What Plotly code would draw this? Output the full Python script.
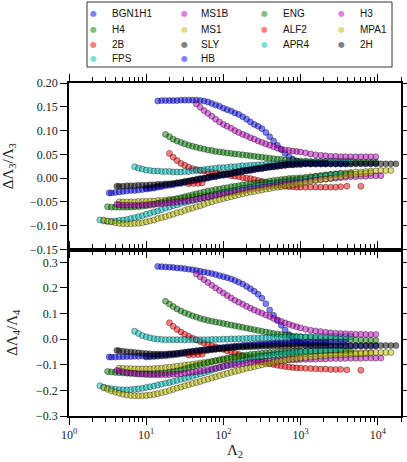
import plotly.graph_objects as go
from plotly.subplots import make_subplots

# Each EOS: (Lambda_2, dLambda3/Lambda3, dLambda4/Lambda4)
BGN1H1 = [
    (14.1, .162, .284), (15.8, .163, .283), (17.8, .163, .282), (20.0, .163, .281),
    (22.4, .163, .280), (25.1, .163, .278), (28.2, .164, .277), (31.6, .164, .275),
    (35.5, .164, .273), (39.8, .164, .271), (44.7, .164, .268), (50.1, .163, .265),
    (56.2, .162, .262), (63.1, .160, .259), (70.8, .157, .256), (79.4, .154, .252),
    (89.1, .151, .248), (100, .147, .244), (112, .144, .240), (126, .141, .235),
    (141, .137, .229), (158, .134, .222), (178, .129, .215), (200, .124, .206),
    (224, .118, .197), (251, .113, .187), (282, .109, .175), (316, .104, .160),
    (355, .096, .138), (398, .087, .114), (447, .078, .093), (501, .069, .073),
    (562, .060, .054), (631, .052, .036), (708, .045, .018), (794, .040, .004),
    (891, .036, -.007), (1000, .033, -.015), (1161, .031, -.021), (1349, .030, -.024),
    (1567, .030, -.025), (1820, .030, -.026), (2113, .030, -.026), (2455, .030, -.026),
    (2851, .030, -.027), (3311, .030, -.027), (3846, .030, -.027), (4467, .030, -.027),
    (5188, .031, -.027), (6026, .031, -.027), (6998, .031, -.027), (8128, .031, -.027),
    (9441, .031, -.027),
]

H4 = [
    (17.8, .092, .148), (20.0, .087, .137), (22.4, .082, .127), (25.1, .078, .118),
    (28.2, .075, .110), (31.6, .072, .103), (35.5, .069, .097), (39.8, .067, .091),
    (44.7, .065, .086), (50.1, .063, .081), (56.2, .061, .077), (63.1, .059, .073),
    (70.8, .058, .070), (79.4, .056, .067), (89.1, .055, .064), (100, .054, .061),
    (112, .053, .058), (126, .052, .055), (141, .051, .052), (158, .050, .049),
    (178, .049, .046), (200, .048, .043), (224, .047, .040), (251, .046, .037),
    (282, .045, .034), (316, .044, .031), (355, .043, .028), (398, .042, .025),
    (447, .041, .022), (501, .040, .020), (562, .039, .018), (631, .038, .016),
    (708, .037, .014), (794, .037, .012), (891, .036, .010), (1000, .036, .009),
    (1161, .036, .007), (1349, .035, .006), (1567, .035, .005), (1820, .035, .004),
    (2113, .035, .003), (2455, .035, .002), (2851, .034, .001), (3311, .034, .000),
    (3846, .034, -.001), (4467, .034, -.002), (5188, .034, -.003), (6026, .034, -.003),
    (6998, .034, -.004), (8128, .034, -.004), (9441, .034, -.005),
]

EOS_2B = [
    (20.0, .052, .064), (22.4, .044, .050), (25.1, .037, .038), (28.2, .031, .028),
    (31.6, .027, .019), (35.5, .023, .011), (39.8, .020, .004), (44.7, .018, -.003),
    (50.1, .016, -.009), (56.2, .015, -.015), (63.1, .013, -.020), (70.8, .012, -.025),
    (79.4, .011, -.030), (89.1, .009, -.035), (100, .008, -.040), (112, .007, -.045),
    (126, .005, -.050), (141, .004, -.055), (158, .003, -.060), (178, .001, -.065),
    (200, .000, -.070), (224, -.001, -.075), (251, -.003, -.080), (282, -.005, -.084),
    (316, -.007, -.088), (355, -.009, -.092), (398, -.011, -.096), (447, -.013, -.099),
    (501, -.015, -.102), (562, -.016, -.105), (631, -.017, -.107), (708, -.018, -.109),
    (794, -.018, -.111), (891, -.019, -.112), (1000, -.019, -.113), (1161, -.019, -.114),
    (1349, -.019, -.115), (1567, -.019, -.116), (1820, -.019, -.117), (2113, -.019, -.117),
    (2455, -.019, -.118), (2851, -.019, -.118), (3311, -.018, -.118), (3981, -.017, -.120),
    (6026, -.017, -.121),
]

FPS = [
    (7.08, .024, .031), (7.94, .021, .022), (8.91, .019, .014), (10.0, .017, .009),
    (11.2, .016, .005), (12.6, .015, .002), (14.1, .015, .000), (15.8, .014, -.001),
    (17.8, .014, -.002), (20.0, .014, -.002), (22.4, .013, -.002), (25.1, .013, -.002),
    (28.2, .013, -.002), (31.6, .014, -.002), (35.5, .014, -.002), (39.8, .015, -.002),
    (44.7, .016, -.002), (50.1, .017, -.002), (56.2, .018, -.002), (63.1, .019, -.002),
    (70.8, .020, -.001), (79.4, .021, -.001), (89.1, .022, -.001), (100, .022, .000),
    (112, .023, .000), (126, .024, .001), (141, .024, .001), (158, .025, .002),
    (178, .026, .002), (200, .026, .003), (224, .027, .003), (251, .027, .004),
    (282, .028, .004), (316, .028, .005), (355, .029, .005), (398, .029, .006),
    (447, .030, .006), (501, .030, .007), (562, .031, .007), (631, .031, .008),
    (708, .032, .008), (794, .032, .008), (891, .033, .009), (1000, .033, .009),
    (1161, .034, .009), (1349, .034, .010), (1567, .035, .010), (1820, .035, .010),
    (2113, .035, .010), (2455, .036, .010), (2851, .036, .010), (3311, .036, .010),
    (3846, .036, .010), (4467, .036, .010),
]

MS1B = [
    (44.7, .156, .254), (50.1, .149, .243), (56.2, .142, .232), (63.1, .136, .221),
    (70.8, .130, .210), (79.4, .124, .200), (89.1, .118, .190), (100, .113, .180),
    (112, .109, .170), (126, .105, .161), (141, .100, .152), (158, .096, .144),
    (178, .092, .136), (200, .089, .128), (224, .085, .121), (251, .082, .114),
    (282, .078, .107), (316, .075, .101), (355, .072, .094), (398, .069, .088),
    (447, .066, .081), (501, .063, .075), (562, .061, .069), (631, .059, .063),
    (708, .058, .058), (794, .057, .053), (891, .056, .048), (1000, .055, .044),
    (1161, .053, .039), (1349, .051, .035), (1567, .049, .032), (1820, .048, .030),
    (2113, .047, .027), (2455, .046, .025), (2851, .046, .023), (3311, .045, .022),
    (3846, .045, .021), (4467, .045, .020), (5188, .045, .019), (6026, .045, .019),
    (6998, .045, .018), (8128, .045, .018), (9441, .045, .018),
]

MS1 = [
    (4.47, -.050, -.113), (5.01, -.050, -.114), (5.62, -.050, -.115), (6.31, -.050, -.115),
    (7.08, -.050, -.116), (7.94, -.049, -.116), (8.91, -.049, -.116), (10.0, -.049, -.116),
    (11.2, -.048, -.116), (12.6, -.048, -.115), (14.1, -.047, -.114), (15.8, -.047, -.113),
    (17.8, -.046, -.111), (20.0, -.045, -.110), (22.4, -.045, -.108), (25.1, -.044, -.106),
    (28.2, -.043, -.104), (31.6, -.042, -.102), (35.5, -.041, -.100), (39.8, -.040, -.098),
    (44.7, -.039, -.096), (50.1, -.038, -.093), (56.2, -.037, -.091), (63.1, -.036, -.089),
    (70.8, -.035, -.087), (79.4, -.033, -.085), (89.1, -.032, -.083), (100, -.030, -.081),
    (112, -.029, -.079), (126, -.027, -.077), (141, -.026, -.076), (158, -.024, -.074),
    (178, -.022, -.072), (200, -.021, -.071), (224, -.019, -.069), (251, -.018, -.068),
    (282, -.016, -.066), (316, -.015, -.065), (355, -.013, -.064), (398, -.012, -.063),
    (447, -.010, -.062), (501, -.009, -.061), (562, -.008, -.060), (631, -.006, -.059),
    (708, -.005, -.058), (794, -.004, -.058), (891, -.003, -.057), (1000, -.002, -.057),
    (1161, .000, -.056), (1349, .002, -.056), (1567, .004, -.055), (1820, .005, -.055),
    (2113, .007, -.054), (2455, .008, -.054), (2851, .009, -.054), (3311, .010, -.053),
    (3846, .011, -.053), (4467, .012, -.053), (5188, .013, -.053), (6026, .013, -.052),
    (6998, .014, -.052), (8128, .015, -.052), (9441, .015, -.052), (10965, .016, -.052),
    (12735, .016, -.052), (14791, .016, -.052),
]

SLY = [
    (10.0, -.021, -.070), (11.2, -.020, -.069), (12.6, -.019, -.068), (14.1, -.017, -.067),
    (15.8, -.016, -.066), (17.8, -.014, -.065), (20.0, -.013, -.063), (22.4, -.012, -.062),
    (25.1, -.010, -.060), (28.2, -.009, -.058), (31.6, -.007, -.056), (35.5, -.006, -.054),
    (39.8, -.004, -.052), (44.7, -.003, -.050), (50.1, -.001, -.048), (56.2, .000, -.046),
    (63.1, .002, -.044), (70.8, .004, -.042), (79.4, .005, -.040), (89.1, .007, -.038),
    (100, .008, -.036), (112, .010, -.034), (126, .011, -.033), (141, .013, -.031),
    (158, .014, -.030), (178, .016, -.028), (200, .017, -.027), (224, .018, -.026),
    (251, .020, -.025), (282, .021, -.024), (316, .022, -.023), (355, .024, -.022),
    (398, .025, -.021), (447, .026, -.020), (501, .027, -.019), (562, .028, -.019),
    (631, .029, -.018), (708, .030, -.018), (794, .030, -.017), (891, .031, -.017),
    (1000, .031, -.017), (1161, .032, -.016), (1349, .032, -.016), (1567, .032, -.016),
    (1820, .032, -.016), (2113, .032, -.016),
]

HB = [
    (3.31, -.031, -.070), (3.55, -.031, -.070), (3.98, -.030, -.070), (4.47, -.029, -.069),
    (5.01, -.028, -.069), (5.62, -.027, -.068), (6.31, -.026, -.068), (7.08, -.026, -.067),
    (7.94, -.025, -.067), (8.91, -.024, -.066), (10.0, -.023, -.066), (11.2, -.022, -.065),
    (12.6, -.021, -.064), (14.1, -.019, -.063), (15.8, -.018, -.062), (17.8, -.016, -.061),
    (20.0, -.015, -.059), (22.4, -.014, -.058), (25.1, -.012, -.056), (28.2, -.011, -.054),
    (31.6, -.009, -.052), (35.5, -.008, -.050), (39.8, -.006, -.048), (44.7, -.005, -.046),
    (50.1, -.003, -.044), (56.2, -.002, -.042), (63.1, .000, -.040), (70.8, .002, -.038),
    (79.4, .003, -.036), (89.1, .005, -.034), (100, .006, -.032), (112, .008, -.030),
    (126, .009, -.029), (141, .011, -.027), (158, .012, -.026), (178, .014, -.024),
    (200, .015, -.023), (224, .016, -.022), (251, .018, -.021), (282, .019, -.020),
    (316, .020, -.019), (355, .022, -.018), (398, .023, -.017), (447, .024, -.016),
    (501, .025, -.015), (562, .026, -.015), (631, .027, -.014), (708, .028, -.014),
    (794, .028, -.013), (891, .029, -.013), (1000, .029, -.013), (1161, .030, -.012),
    (1349, .030, -.012), (1567, .030, -.012), (1820, .030, -.012), (2113, .030, -.012),
    (2455, .030, -.012), (2851, .030, -.012), (3311, .030, -.012), (3846, .030, -.012),
]

ENG = [
    (3.16, -.060, -.126), (3.55, -.061, -.128), (3.98, -.061, -.130), (4.47, -.061, -.131),
    (5.01, -.061, -.132), (5.62, -.061, -.133), (6.31, -.061, -.134), (7.08, -.060, -.134),
    (7.94, -.060, -.135), (8.91, -.059, -.135), (10.0, -.058, -.135), (11.2, -.057, -.135),
    (12.6, -.055, -.135), (14.1, -.053, -.134), (15.8, -.051, -.133), (17.8, -.049, -.132),
    (20.0, -.047, -.130), (22.4, -.045, -.127), (25.1, -.043, -.124), (28.2, -.041, -.120),
    (31.6, -.039, -.116), (35.5, -.037, -.112), (39.8, -.035, -.108), (44.7, -.033, -.104),
    (50.1, -.031, -.100), (56.2, -.029, -.096), (63.1, -.027, -.092), (70.8, -.026, -.088),
    (79.4, -.024, -.084), (89.1, -.023, -.080), (100, -.021, -.077), (112, -.020, -.074),
    (126, -.018, -.071), (141, -.017, -.069), (158, -.016, -.066), (178, -.014, -.064),
    (200, -.013, -.062), (224, -.012, -.060), (251, -.011, -.058), (282, -.010, -.057),
    (316, -.009, -.055), (355, -.008, -.054), (398, -.006, -.053), (447, -.005, -.052),
    (501, -.004, -.051), (562, -.003, -.050), (631, -.002, -.049), (708, -.001, -.049),
    (794, .000, -.048), (891, .000, -.048), (1000, .001, -.047), (1161, .002, -.047),
    (1349, .003, -.046), (1567, .004, -.046), (1820, .005, -.046), (2113, .006, -.045),
    (2455, .007, -.045), (2851, .008, -.045), (3311, .008, -.045), (3846, .009, -.045),
    (4467, .010, -.045),
]

ALF2 = [
    (35.5, -.012, -.062), (41.0, -.011, -.061), (47.0, -.011, -.060), (53.0, -.010, -.059),
]

APR4 = [
    (2.51, -.088, -.182), (2.82, -.090, -.187), (3.16, -.091, -.191), (3.55, -.091, -.194),
    (3.98, -.090, -.196), (4.47, -.089, -.197), (5.01, -.088, -.198), (5.62, -.087, -.198),
    (6.31, -.085, -.197), (7.08, -.083, -.196), (7.94, -.081, -.194), (8.91, -.079, -.192),
    (10.0, -.076, -.189), (11.2, -.074, -.186), (12.6, -.071, -.183), (14.1, -.069, -.179),
    (15.8, -.066, -.176), (17.8, -.063, -.172), (20.0, -.061, -.169), (22.4, -.058, -.165),
    (25.1, -.056, -.161), (28.2, -.053, -.157), (31.6, -.051, -.153), (35.5, -.049, -.149),
    (39.8, -.047, -.145), (44.7, -.045, -.140), (50.1, -.043, -.136), (56.2, -.041, -.131),
    (63.1, -.039, -.126), (70.8, -.037, -.121), (79.4, -.035, -.116), (89.1, -.033, -.111),
    (100, -.031, -.106), (112, -.029, -.101), (126, -.028, -.097), (141, -.026, -.093),
    (158, -.024, -.089), (178, -.022, -.085), (200, -.021, -.081), (224, -.019, -.078),
    (251, -.018, -.075), (282, -.016, -.072), (316, -.015, -.069), (355, -.014, -.066),
    (398, -.013, -.064), (447, -.012, -.062), (501, -.011, -.060), (562, -.010, -.058),
    (631, -.009, -.056), (708, -.008, -.054), (794, -.007, -.053), (891, -.006, -.051),
    (1000, -.004, -.050), (1161, -.003, -.048), (1349, -.001, -.047), (1567, .001, -.046),
    (1820, .003, -.045), (2113, .005, -.044), (2455, .007, -.043), (2851, .008, -.042),
    (3311, .010, -.041),
]

H3 = [
    (4.17, -.055, -.122), (4.47, -.056, -.124), (5.01, -.057, -.127), (5.62, -.057, -.130),
    (6.31, -.057, -.132), (7.08, -.057, -.134), (7.94, -.057, -.136), (8.91, -.056, -.137),
    (10.0, -.056, -.138), (11.2, -.055, -.139), (12.6, -.055, -.139), (14.1, -.054, -.139),
    (15.8, -.054, -.139), (17.8, -.053, -.139), (20.0, -.052, -.138), (22.4, -.051, -.137),
    (25.1, -.050, -.136), (28.2, -.049, -.135), (31.6, -.048, -.133), (35.5, -.047, -.131),
    (39.8, -.046, -.129), (44.7, -.044, -.127), (50.1, -.043, -.125), (56.2, -.041, -.122),
    (63.1, -.040, -.119), (70.8, -.038, -.116), (79.4, -.037, -.113), (89.1, -.035, -.110),
    (100, -.034, -.107), (112, -.032, -.104), (126, -.031, -.102), (141, -.029, -.100),
    (158, -.028, -.098), (178, -.026, -.096), (200, -.025, -.094), (224, -.023, -.092),
    (251, -.022, -.091), (282, -.021, -.089), (316, -.019, -.088), (355, -.018, -.087),
    (398, -.017, -.086), (447, -.016, -.085), (501, -.014, -.084), (562, -.013, -.083),
    (631, -.012, -.082), (708, -.011, -.081), (794, -.010, -.080), (891, -.009, -.080),
    (1000, -.008, -.079), (1161, -.007, -.079), (1349, -.005, -.078), (1567, -.004, -.078),
    (1820, -.003, -.077), (2113, -.002, -.077), (2455, -.001, -.076), (2851, .000, -.076),
    (3311, .001, -.076), (3846, .002, -.075), (4467, .003, -.075), (5188, .003, -.075),
    (6026, .004, -.075), (6998, .004, -.074), (8128, .005, -.074), (9441, .005, -.074),
    (10965, .005, -.074),
]

MPA1 = [
    (2.82, -.088, -.190), (3.16, -.090, -.196), (3.55, -.092, -.202), (3.98, -.094, -.207),
    (4.47, -.095, -.211), (5.01, -.096, -.215), (5.62, -.096, -.218), (6.31, -.096, -.220),
    (7.08, -.095, -.221), (7.94, -.095, -.221), (8.91, -.094, -.221), (10.0, -.092, -.220),
    (11.2, -.090, -.218), (12.6, -.088, -.216), (14.1, -.085, -.213), (15.8, -.083, -.209),
    (17.8, -.081, -.205), (20.0, -.078, -.201), (22.4, -.076, -.196), (25.1, -.073, -.191),
    (28.2, -.071, -.187), (31.6, -.068, -.182), (35.5, -.065, -.178), (39.8, -.063, -.173),
    (44.7, -.060, -.169), (50.1, -.058, -.165), (56.2, -.055, -.160), (63.1, -.052, -.156),
    (70.8, -.050, -.151), (79.4, -.047, -.147), (89.1, -.045, -.142), (100, -.043, -.138),
    (112, -.041, -.134), (126, -.039, -.130), (141, -.037, -.126), (158, -.035, -.122),
    (178, -.033, -.118), (200, -.031, -.114), (224, -.029, -.111), (251, -.028, -.107),
    (282, -.026, -.104), (316, -.025, -.100), (355, -.023, -.097), (398, -.022, -.094),
    (447, -.020, -.091), (501, -.019, -.088), (562, -.018, -.085), (631, -.016, -.083),
    (708, -.015, -.080), (794, -.014, -.078), (891, -.012, -.076), (1000, -.011, -.074),
    (1161, -.009, -.072), (1349, -.007, -.070), (1567, -.005, -.068), (1820, -.003, -.066),
    (2113, -.002, -.065), (2455, .000, -.063), (2851, .002, -.062), (3311, .003, -.061),
    (3846, .005, -.060), (4467, .007, -.059), (5188, .008, -.058), (6026, .009, -.057),
    (6998, .010, -.056), (8128, .011, -.055),
]

EOS_2H = [
    (4.17, -.017, -.044), (4.47, -.017, -.045), (5.01, -.017, -.047), (5.62, -.016, -.049),
    (6.31, -.016, -.050), (7.08, -.016, -.052), (7.94, -.015, -.053), (8.91, -.015, -.055),
    (10.0, -.015, -.056), (11.2, -.014, -.057), (12.6, -.014, -.058), (14.1, -.013, -.058),
    (15.8, -.013, -.058), (17.8, -.012, -.058), (20.0, -.012, -.057), (22.4, -.011, -.056),
    (25.1, -.010, -.055), (28.2, -.009, -.053), (31.6, -.008, -.051), (35.5, -.006, -.049),
    (39.8, -.005, -.047), (44.7, -.003, -.045), (50.1, -.002, -.043), (56.2, .000, -.041),
    (63.1, .001, -.040), (70.8, .003, -.038), (79.4, .004, -.037), (89.1, .006, -.036),
    (100, .007, -.035), (112, .009, -.034), (126, .010, -.033), (141, .012, -.032),
    (158, .013, -.031), (178, .014, -.031), (200, .016, -.030), (224, .017, -.030),
    (251, .018, -.029), (282, .020, -.029), (316, .021, -.028), (355, .022, -.028),
    (398, .023, -.028), (447, .024, -.027), (501, .025, -.027), (562, .026, -.027),
    (631, .027, -.027), (708, .028, -.026), (794, .028, -.026), (891, .029, -.026),
    (1000, .029, -.026), (1161, .030, -.026), (1349, .030, -.026), (1567, .030, -.025),
    (1820, .030, -.025), (2113, .030, -.025), (2455, .030, -.025), (2851, .030, -.025),
    (3311, .030, -.025), (3846, .030, -.025), (4467, .030, -.025), (5188, .030, -.025),
    (6026, .030, -.025), (6998, .030, -.025), (8128, .030, -.025), (9441, .030, -.025),
    (10965, .030, -.025), (12735, .030, -.025), (14791, .030, -.025), (17179, .030, -.025),
]

# plotting order follows the classic b g r c m y k colour cycle
EOS_LIST = [
    ("BGN1H1", BGN1H1, "0,0,255"),
    ("H4", H4, "0,128,0"),
    ("2B", EOS_2B, "255,0,0"),
    ("FPS", FPS, "0,191,191"),
    ("MS1B", MS1B, "191,0,191"),
    ("MS1", MS1, "191,191,0"),
    ("SLY", SLY, "0,0,0"),
    ("HB", HB, "0,0,255"),
    ("ENG", ENG, "0,128,0"),
    ("ALF2", ALF2, "255,0,0"),
    ("APR4", APR4, "0,191,191"),
    ("H3", H3, "191,0,191"),
    ("MPA1", MPA1, "191,191,0"),
    ("2H", EOS_2H, "0,0,0"),
]

SERIF = "Liberation Serif"

# plot area in pixels (used to place the legend box above the axes)
PLOT_L, PLOT_W, PLOT_B, PLOT_H = 69, 332, 416, 333

# legend: 4 columns filled top-to-bottom (4, 4, 3, 3 entries), matplotlib style
LEGEND_COLS = [4, 4, 3, 3]
LEG_MARK_X = [93, 184, 264, 341]
LEG_TEXT_X = [112, 201, 283, 360]
LEG_ROW_Y = [14, 29, 44, 58]
LEG_BOX = (87, 392, 2, 67)  # left, right, top, bottom


def px_x(px):
    return (px - PLOT_L) / PLOT_W


def px_y(py):
    return (PLOT_B - py) / PLOT_H


fig = make_subplots(rows=2, cols=1, shared_xaxes=True, vertical_spacing=0,
                    row_heights=[0.5, 0.5])

legend_notes = []
i = 0
for col, n in enumerate(LEGEND_COLS):
    for row in range(n):
        name, pts, rgb = EOS_LIST[i]
        i += 1
        lam = [p[0] for p in pts]
        d3 = [p[1] for p in pts]
        d4 = [p[2] for p in pts]
        marker = dict(size=6, color=f"rgba({rgb},0.5)",
                      line=dict(color="rgba(0,0,0,0.55)", width=0.7))
        fig.add_trace(go.Scatter(x=lam, y=d3, mode="markers", name=name, marker=marker,
                                 showlegend=False),
                      row=1, col=1)
        fig.add_trace(go.Scatter(x=lam, y=d4, mode="markers", name=name, marker=marker,
                                 showlegend=False),
                      row=2, col=1)
        ly = px_y(LEG_ROW_Y[row])
        legend_notes.append(dict(
            x=px_x(LEG_MARK_X[col]), y=ly, xref="paper", yref="paper",
            text="●", showarrow=False, xanchor="center", yanchor="middle",
            font=dict(family="DejaVu Sans", size=8, color=f"rgba({rgb},0.5)")))
        legend_notes.append(dict(
            x=px_x(LEG_TEXT_X[col]), y=ly, xref="paper", yref="paper",
            text=name, showarrow=False, xanchor="left", yanchor="middle", xshift=-2,
            font=dict(family="Liberation Sans", size=10, color="#111")))

axis_style = dict(showline=True, linecolor="black", linewidth=1.5, mirror="allticks",
                  ticks="outside", ticklen=7, tickwidth=1.2, tickcolor="black",
                  showgrid=False, zeroline=False,
                  tickfont=dict(family=SERIF, size=12, color="#222"))

fig.update_xaxes(type="log", range=[0, 4.301],
                 tickvals=[1, 10, 100, 1000, 10000],
                 ticktext=["10<sup>0</sup>", "10<sup>1</sup>", "10<sup>2</sup>",
                           "10<sup>3</sup>", "10<sup>4</sup>"],
                 minor=dict(ticks="outside", ticklen=4, tickcolor="black", dtick="D1",
                            showgrid=False),
                 **axis_style)
fig.update_xaxes(showticklabels=False, row=1, col=1)
fig.update_xaxes(title=dict(text="Λ<sub>2</sub>", font=dict(family=SERIF, size=15, color="#222"),
                            standoff=2), row=2, col=1)

fig.update_yaxes(range=[-0.15, 0.20], dtick=0.05, tick0=0, tickformat=".2f",
                 title=dict(text="ΔΛ<sub>3</sub>/Λ<sub>3</sub>",
                            font=dict(family=SERIF, size=15, color="#222")),
                 row=1, col=1, **axis_style)
fig.update_yaxes(range=[-0.3, 0.35], dtick=0.1, tick0=0, tickformat=".1f",
                 title=dict(text="ΔΛ<sub>4</sub>/Λ<sub>4</sub>",
                            font=dict(family=SERIF, size=15, color="#222")),
                 row=2, col=1, **axis_style)

box_l, box_r, box_t, box_b = LEG_BOX
fig.update_layout(
    width=407, height=462,
    margin=dict(l=PLOT_L, r=407 - PLOT_L - PLOT_W, t=PLOT_B - PLOT_H, b=462 - PLOT_B,
                autoexpand=False),
    paper_bgcolor="white", plot_bgcolor="white",
    showlegend=False,
    annotations=legend_notes,
    shapes=[dict(type="rect", xref="paper", yref="paper",
                 x0=px_x(box_l), x1=px_x(box_r), y0=px_y(box_b), y1=px_y(box_t),
                 line=dict(color="#333", width=1), fillcolor="rgba(0,0,0,0)")],
)

# drop the default page margin so the figure sits at the window origin
fig.write_html("out.html", config={"displayModeBar": False},
               post_script="document.body.style.margin='0px';")
